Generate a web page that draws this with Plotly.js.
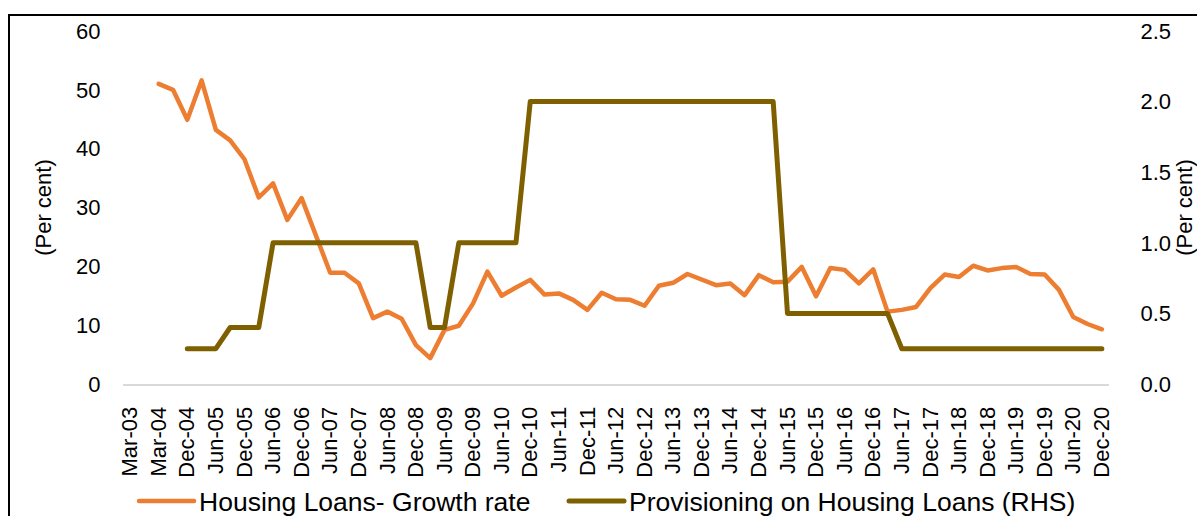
<!DOCTYPE html>
<html>
<head>
<meta charset="utf-8">
<script src="https://cdn.plot.ly/plotly-3.0.1.min.js"></script>
<style>
  html, body { margin: 0; padding: 0; background: #fff; overflow: hidden; }
  #chart { width: 1197px; height: 540px; position: absolute; left: 0; top: 0; }
  #frame { position: absolute; left: 8px; top: 14px; width: 1400px; height: 700px;
           border: 2px solid #000; pointer-events: none; }
  .scatterlayer .js-line { stroke-linejoin: round; stroke-linecap: round; }
  .legendlines path { stroke-linecap: round; }
</style>
</head>
<body>
<div id="chart"></div>
<div id="frame"></div>
<script>
// Quarter-end categories (every other one is labelled)
const categories = [
  "Mar-03","Sep-03","Mar-04","Sep-04",
  "Dec-04","Mar-05","Jun-05","Sep-05","Dec-05","Mar-06","Jun-06","Sep-06",
  "Dec-06","Mar-07","Jun-07","Sep-07","Dec-07","Mar-08","Jun-08","Sep-08",
  "Dec-08","Mar-09","Jun-09","Sep-09","Dec-09","Mar-10","Jun-10","Sep-10",
  "Dec-10","Mar-11","Jun-11","Sep-11","Dec-11","Mar-12","Jun-12","Sep-12",
  "Dec-12","Mar-13","Jun-13","Sep-13","Dec-13","Mar-14","Jun-14","Sep-14",
  "Dec-14","Mar-15","Jun-15","Sep-15","Dec-15","Mar-16","Jun-16","Sep-16",
  "Dec-16","Mar-17","Jun-17","Sep-17","Dec-17","Mar-18","Jun-18","Sep-18",
  "Dec-18","Mar-19","Jun-19","Sep-19","Dec-19","Mar-20","Jun-20","Sep-20",
  "Dec-20"
];

const tickLabels = [
  "Mar-03","Mar-04","Dec-04","Jun-05","Dec-05","Jun-06","Dec-06","Jun-07",
  "Dec-07","Jun-08","Dec-08","Jun-09","Dec-09","Jun-10","Dec-10","Jun-11",
  "Dec-11","Jun-12","Dec-12","Jun-13","Dec-13","Jun-14","Dec-14","Jun-15",
  "Dec-15","Jun-16","Dec-16","Jun-17","Dec-17","Jun-18","Dec-18","Jun-19",
  "Dec-19","Jun-20","Dec-20"
];

// Housing loans growth rate (per cent, LHS)
const growthRate = [
  null, null, 51.0, 50.0,
  44.9, 51.6, 43.2, 41.4, 38.2, 31.7, 34.1, 27.9,
  31.6, 25.5, 18.9, 18.9, 17.1, 11.2, 12.3, 11.1,
  6.6, 4.4, 9.2, 9.9, 13.7, 19.1, 15.0, 16.4,
  17.7, 15.2, 15.4, 14.3, 12.6, 15.5, 14.4, 14.3,
  13.3, 16.7, 17.2, 18.7, 17.8, 16.8, 17.1, 15.1,
  18.5, 17.3, 17.4, 19.9, 14.9, 19.7, 19.4, 17.1,
  19.5, 12.3, 12.6, 13.1, 16.3, 18.6, 18.2, 20.1,
  19.3, 19.7, 19.9, 18.7, 18.6, 16.0, 11.4, 10.2,
  9.3
];

// Provisioning on housing loans (per cent, RHS)
const provisioning = [
  null, null, null, null,
  0.25, 0.25, 0.25, 0.4, 0.4, 0.4, 1.0, 1.0,
  1.0, 1.0, 1.0, 1.0, 1.0, 1.0, 1.0, 1.0,
  1.0, 0.4, 0.4, 1.0, 1.0, 1.0, 1.0, 1.0,
  2.0, 2.0, 2.0, 2.0, 2.0, 2.0, 2.0, 2.0,
  2.0, 2.0, 2.0, 2.0, 2.0, 2.0, 2.0, 2.0,
  2.0, 2.0, 0.5, 0.5, 0.5, 0.5, 0.5, 0.5,
  0.5, 0.5, 0.25, 0.25, 0.25, 0.25, 0.25, 0.25,
  0.25, 0.25, 0.25, 0.25, 0.25, 0.25, 0.25, 0.25,
  0.25
];

const FONT = "Liberation Sans, Arial, sans-serif";

const traces = [
  {
    type: "scatter", mode: "lines", name: "Housing Loans- Growth rate",
    x: categories, y: growthRate, yaxis: "y", legend: "legend",
    line: { color: "#ED7D31", width: 4.5 },
    connectgaps: false, hoverinfo: "x+y"
  },
  {
    type: "scatter", mode: "lines", name: "Provisioning on Housing Loans (RHS)",
    x: categories, y: provisioning, yaxis: "y2", legend: "legend2",
    line: { color: "#7F6000", width: 5 },
    connectgaps: false, hoverinfo: "x+y"
  }
];

const legendStyle = {
  orientation: "h",
  y: -0.332, yanchor: "middle", xanchor: "left",
  itemwidth: 55,
  font: { family: FONT, size: 26.5, color: "#000" },
  bgcolor: "rgba(0,0,0,0)"
};

const layout = {
  width: 1197, height: 540,
  margin: { l: 123, r: 88, t: 31, b: 156 },
  paper_bgcolor: "#ffffff", plot_bgcolor: "#ffffff",
  font: { family: FONT, size: 22, color: "#000" },
  showlegend: true,
  xaxis: {
    type: "category", automargin: false,
    categoryorder: "array", categoryarray: categories,
    range: [-0.5, categories.length - 0.5],
    tickmode: "array", tickvals: tickLabels, ticktext: tickLabels,
    tickangle: -90,
    tickfont: { family: FONT, size: 22, color: "#000" },
    ticks: "outside", ticklen: 12, tickcolor: "rgba(0,0,0,0)",
    showgrid: false, zeroline: false,
    showline: true, linecolor: "#d9d9d9", linewidth: 2
  },
  yaxis: {
    automargin: false,
    range: [0, 60], dtick: 10, tick0: 0,
    showgrid: false, zeroline: false, showline: false,
    ticks: "outside", ticklen: 17, tickcolor: "rgba(0,0,0,0)",
    tickfont: { family: FONT, size: 22, color: "#000" },
    title: { text: "(Per cent)", font: { family: FONT, size: 22, color: "#000" }, standoff: 18 }
  },
  yaxis2: {
    automargin: false,
    overlaying: "y", side: "right",
    range: [0, 2.5], dtick: 0.5, tick0: 0, tickformat: ".1f",
    showgrid: false, zeroline: false, showline: false,
    ticks: "outside", ticklen: 26, tickcolor: "rgba(0,0,0,0)",
    tickfont: { family: FONT, size: 22, color: "#000" },
    title: { text: "(Per cent)", font: { family: FONT, size: 22, color: "#000" }, standoff: 22 }
  },
  legend: Object.assign({}, legendStyle, { x: 0.0112 }),
  legend2: Object.assign({}, legendStyle, { x: 0.4473 })
};

Plotly.newPlot("chart", traces, layout, { displayModeBar: false, staticPlot: true });
</script>
</body>
</html>
